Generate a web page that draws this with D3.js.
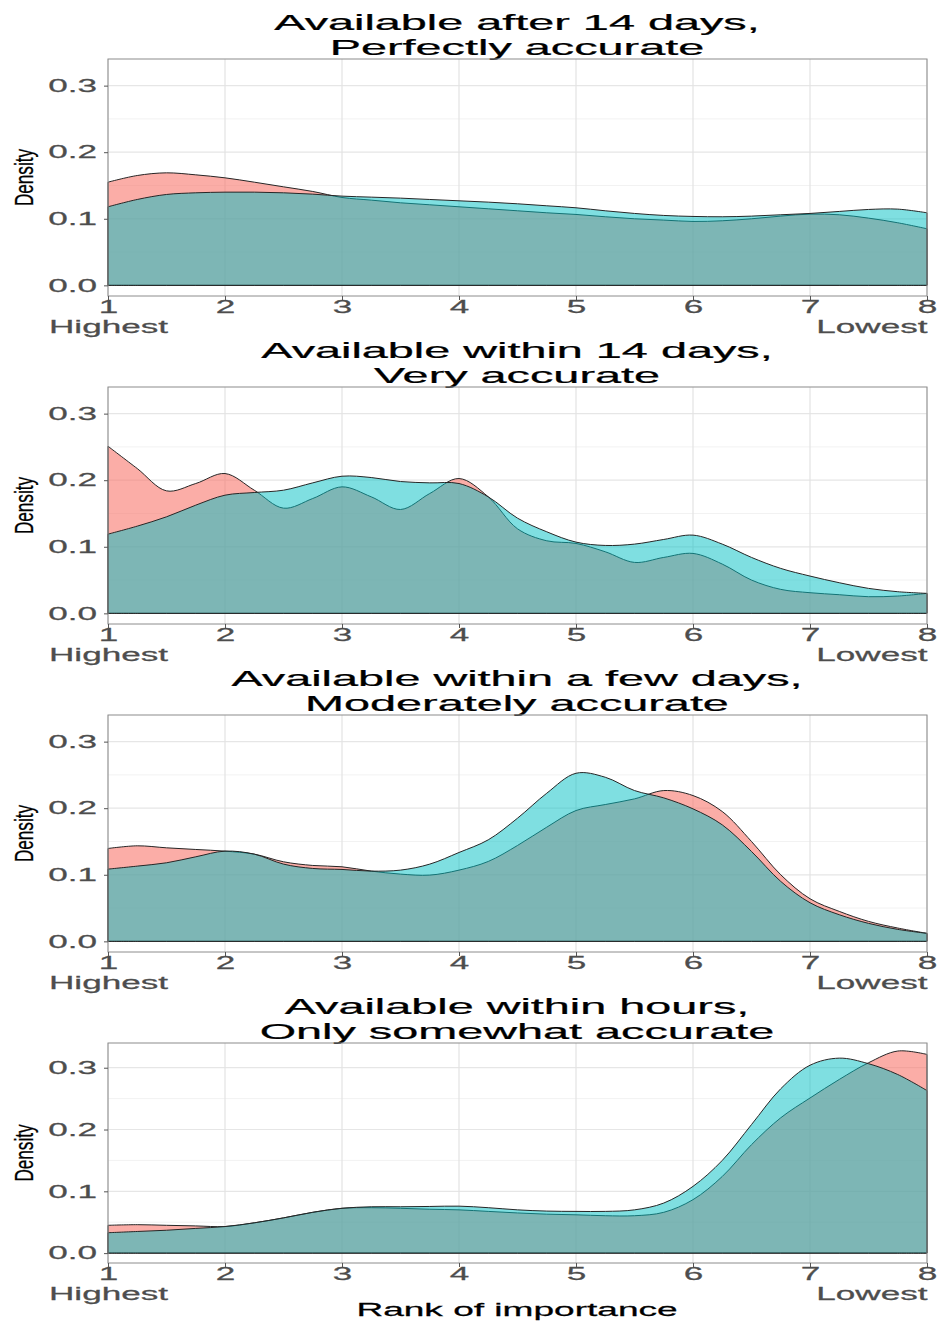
<!DOCTYPE html>
<html>
<head>
<meta charset="utf-8">
<script src="https://cdn.jsdelivr.net/npm/d3@7"></script>
<style>
  body { margin: 0; background: #fff; }
  text { font-family: "Liberation Sans", Arial, sans-serif; }
</style>
</head>
<body>
<script>
// rank positions where the density curves were read
const ranks = [1, 1.25, 1.5, 1.75, 2, 2.25, 2.5, 2.75, 3, 3.25, 3.5, 3.75, 4, 4.25, 4.5,
  4.75, 5, 5.25, 5.5, 5.75, 6, 6.25, 6.5, 6.75, 7, 7.25, 7.5, 7.75, 8];

const titles = [
  ["Available after 14 days,", "Perfectly accurate"],
  ["Available within 14 days,", "Very accurate"],
  ["Available within a few days,", "Moderately accurate"],
  ["Available within hours,", "Only somewhat accurate"]
];

const xTicks = [1, 2, 3, 4, 5, 6, 7, 8];
const yTicks = [0, 0.1, 0.2, 0.3];
const yMinor = [0.05, 0.15, 0.25];

// red group (drawn first)
const redP1 = [.155, .165, .169, .166, .1615, .155, .148, .141, .132, .128, .124, .121, .118, .115, .112,
  .109, .1065, .103, .100, .098, .096, .097, .100, .104, .107, .106, .101, .094, .085];
const redP2 = [.251, .2175, .184, .195, .21, .185, .158, .1725, .19, .175, .156, .18, .2025, .175, .127,
  .109, .105, .0925, .0765, .084, .09, .074, .05, .036, .031, .028, .025, .026, .03];
const redP3 = [.1395, .1435, .1405, .138, .1355, .131, .1195, .114, .112, .1055, .101, .0995, .107, .12, .144,
  .1715, .1965, .2055, .214, .2265, .219, .195, .15, .1, .064, .045, .03, .02, .012];
const redP4 = [.045, .046, .045, .044, .043, .049, .057, .066, .0725, .0735, .0725, .071, .07, .0675, .065,
  .063, .062, .0605, .0605, .066, .0865, .124, .1755, .219, .251, .281, .308, .327, .3215];

// teal group (drawn on top)
const tealP1 = [.118, .129, .1365, .139, .14, .14, .139, .137, .134, .1325, .131, .129, .127, .125, .1225,
  .1195, .1165, .112, .108, .105, .1035, .103, .104, .106, .108, .111, .114, .1145, .109];
const tealP2 = [.119, .131, .145, .1625, .1775, .1815, .185, .196, .206, .204, .198, .196, .195, .175, .143,
  .1225, .107, .102, .104, .111, .1175, .104, .084, .0675, .056, .046, .0375, .0325, .03];
const tealP3 = [.1085, .113, .118, .127, .1355, .131, .116, .1095, .108, .1055, .107, .116, .1335, .1525, .185,
  .2225, .2525, .2465, .2265, .2155, .199, .175, .135, .09, .058, .04, .027, .018, .012];
const tealP4 = [.033, .035, .037, .04, .043, .049, .057, .066, .0725, .075, .075, .0755, .076, .0735, .07,
  .068, .0675, .0675, .07, .081, .108, .15, .208, .266, .304, .3155, .3065, .289, .263];

const reds = [redP1, redP2, redP3, redP4];
const teals = [tealP1, tealP2, tealP3, tealP4];

// the picture is stretched sideways, so text gets stretched too
const S = 1.95;
const W = 941, H = 1322;
const panelTops = [59, 387, 715, 1043];
const panelHeights = [237, 237, 237, 220];

const svg = d3.select("body").append("svg")
  .attr("width", W).attr("height", H)
  .style("background", "#fff");

const x = d3.scaleLinear().domain([1, 8]).range([108, 927]);

function wideText(g, px, py, str, size, sx, anchor, fill) {
  return g.append("text")
    .attr("transform", "translate(" + px + "," + py + ") scale(" + sx + ",1)")
    .attr("text-anchor", anchor)
    .style("font-size", size + "px")
    .attr("fill", fill)
    .attr("stroke", fill).attr("stroke-width", 0.25)
    .text(str);
}

panelTops.forEach(function (top, i) {
  const h = panelHeights[i];
  const g = svg.append("g");
  const y = d3.scaleLinear().domain([-0.016, 0.34]).range([top + h, top]);

  // titles
  wideText(g, 517, top - 29, titles[i][0], 22, S * 24 / 22, "middle", "#000");
  wideText(g, 517, top - 4, titles[i][1], 22, S * 24 / 22, "middle", "#000");

  // grid
  g.selectAll(".minor").data(yMinor).enter().append("line")
    .attr("x1", x(1)).attr("x2", x(8))
    .attr("y1", d => y(d)).attr("y2", d => y(d))
    .attr("stroke", "#f2f2f2").attr("stroke-width", 1);
  g.selectAll(".major").data(yTicks).enter().append("line")
    .attr("x1", x(1)).attr("x2", x(8))
    .attr("y1", d => y(d)).attr("y2", d => y(d))
    .attr("stroke", "#e6e6e6").attr("stroke-width", 1.2);
  g.selectAll(".vgrid").data(xTicks).enter().append("line")
    .attr("x1", d => x(d)).attr("x2", d => x(d))
    .attr("y1", top).attr("y2", top + h)
    .attr("stroke", "#e3e3e3").attr("stroke-width", 1.2);

  const area = d3.area()
    .x((d, j) => x(ranks[j]))
    .y0(y(0))
    .y1(d => y(d))
    .curve(d3.curveCatmullRom);

  g.append("path").datum(reds[i])
    .attr("d", area)
    .attr("fill", "#F8766D").attr("fill-opacity", 0.6)
    .attr("stroke", "#262626").attr("stroke-width", 1);
  g.append("path").datum(teals[i])
    .attr("d", area)
    .attr("fill", "#00BFC4").attr("fill-opacity", 0.5)
    .attr("stroke", "#262626").attr("stroke-width", 1);

  // border
  g.append("rect")
    .attr("x", x(1)).attr("y", top)
    .attr("width", x(8) - x(1)).attr("height", h)
    .attr("fill", "none").attr("stroke", "#8c8c8c").attr("stroke-width", 1);

  // x axis
  const xa = g.append("g")
    .attr("transform", "translate(0," + (top + h) + ")")
    .call(d3.axisBottom(x).tickValues(xTicks).tickSize(4).tickPadding(0).tickFormat(d3.format("d")));
  xa.select(".domain").remove();
  xa.selectAll(".tick line").attr("stroke", "#555");
  xa.selectAll(".tick text")
    .attr("transform", "scale(" + S + ",1)")
    .attr("fill", "#4d4d4d")
    .attr("stroke", "#4d4d4d").attr("stroke-width", 0.25)
    .style("font-size", "18px")
    .style("font-family", "'Liberation Sans', Arial, sans-serif");
  xa.selectAll(".tick").filter(d => d === 1).select("text")
    .append("tspan").attr("x", 0).attr("dy", "20px").text("Highest");
  xa.selectAll(".tick").filter(d => d === 8).select("text")
    .append("tspan").attr("x", 0).attr("dy", "20px").attr("text-anchor", "end").text("Lowest");

  // y axis
  const ya = g.append("g")
    .attr("transform", "translate(" + x(1) + ",0)")
    .call(d3.axisLeft(y).tickValues(yTicks).tickSize(4).tickFormat(d3.format(".1f")));
  ya.select(".domain").remove();
  ya.selectAll(".tick line").attr("stroke", "#555");
  ya.selectAll(".tick text")
    .attr("transform", "scale(" + S + ",1)")
    .attr("x", -11 / S)
    .attr("fill", "#4d4d4d")
    .attr("stroke", "#4d4d4d").attr("stroke-width", 0.25)
    .style("font-size", "18px")
    .style("font-family", "'Liberation Sans', Arial, sans-serif");

  // y label
  g.append("text")
    .attr("transform", "translate(33," + (top + h / 2) + ") rotate(-90) scale(0.66,1)")
    .attr("text-anchor", "middle")
    .style("font-size", "26px")
    .attr("fill", "#000")
    .attr("stroke", "#000").attr("stroke-width", 0.3)
    .text("Density");
});

// x axis title
wideText(svg, 517, 1316, "Rank of importance", 19, S, "middle", "#000");
</script>
</body>
</html>
